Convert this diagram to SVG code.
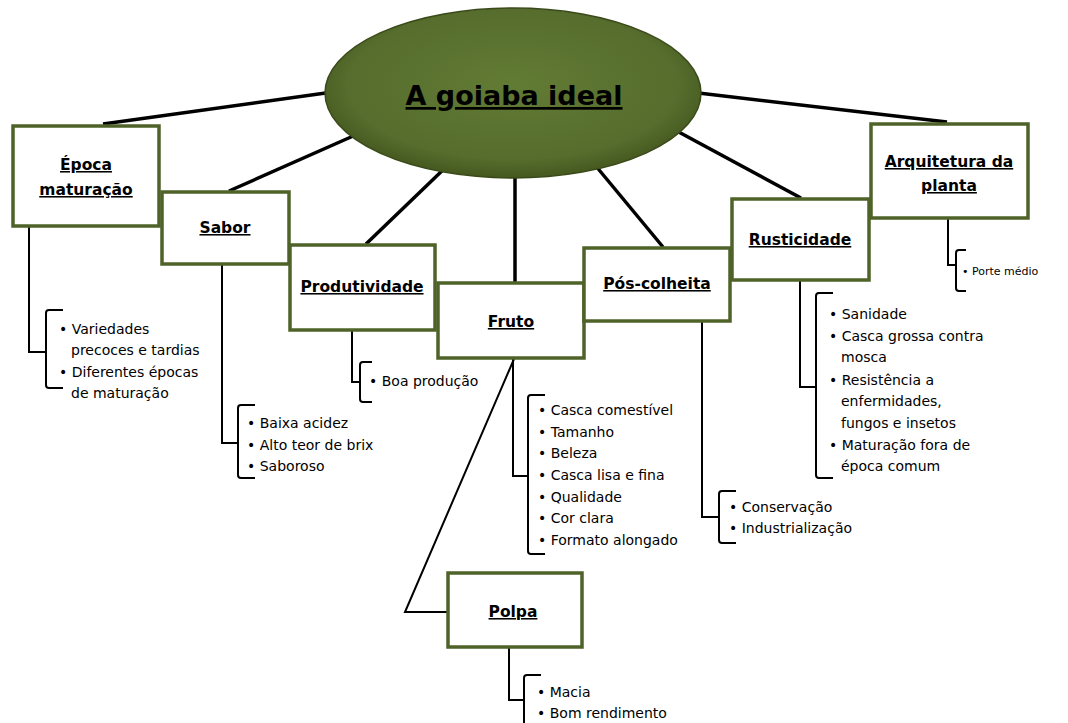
<svg xmlns="http://www.w3.org/2000/svg" width="1068" height="723" viewBox="0 0 1068 723">
<style>
.box{fill:#fff;stroke:#4f6228;stroke-width:3.5}
.lbl{font-family:"DejaVu Sans",sans-serif;font-weight:bold;font-size:15.5px;text-anchor:middle;text-decoration:underline;fill:#000}
.it{font-family:"DejaVu Sans",sans-serif;font-size:14px;fill:#000}
.sm{font-family:"DejaVu Sans",sans-serif;font-size:11px;fill:#000}
.spoke{stroke:#000;stroke-width:3.5;fill:none}
.ln{stroke:#000;stroke-width:2;fill:none}
.br{stroke:#000;stroke-width:2;fill:none}
</style>
<defs>
<radialGradient id="g" cx="50%" cy="45%" r="55%">
<stop offset="0" stop-color="#627b34"/>
<stop offset="0.8" stop-color="#566d2d"/>
<stop offset="1" stop-color="#45581f"/>
</radialGradient>
</defs>
<rect width="1068" height="723" fill="#fff"/>
<g id="connectors">
<line class="spoke" x1="340" y1="91" x2="103" y2="124"/>
<line class="spoke" x1="360" y1="133" x2="229" y2="191"/>
<line class="spoke" x1="445" y1="168" x2="366" y2="244"/>
<line class="spoke" x1="515" y1="175" x2="515" y2="282"/>
<line class="spoke" x1="595" y1="165" x2="663" y2="247"/>
<line class="spoke" x1="675" y1="130" x2="801" y2="198"/>
<line class="spoke" x1="690" y1="92" x2="947" y2="122"/>
<path class="ln" d="M29 227 V352 H46"/>
<path class="br" d="M63 310 H49 Q46 310 46 313 V385 Q46 388 49 388 H63"/>
<path class="ln" d="M222 265 V443 H238"/>
<path class="br" d="M255 405 H241 Q238 405 238 408 V475 Q238 478 241 478 H255"/>
<path class="ln" d="M352 330 V382 H360"/>
<path class="br" d="M372 362 H363 Q360 362 360 365 V399 Q360 402 363 402 H372"/>
<path class="ln" d="M513 358 V476 H528"/>
<path class="br" d="M545 395 H531 Q528 395 528 398 V551 Q528 554 531 554 H545"/>
<path class="ln" stroke-width="1.5" d="M514 359 L405 612 H448"/>
<path class="ln" d="M702 321 V517 H719"/>
<path class="br" d="M736 491 H722 Q719 491 719 494 V540 Q719 543 722 543 H736"/>
<path class="ln" d="M800 280 V387 H816"/>
<path class="br" d="M833 293 H819 Q816 293 816 296 V475 Q816 478 819 478 H833"/>
<path class="ln" d="M948 218 V265 H956"/>
<path class="br" d="M966 250 H959 Q956 250 956 253 V288 Q956 291 959 291 H966"/>
<path class="ln" d="M509 648 V700 H524"/>
<path class="br" d="M541 675 H527 Q524 675 524 678 V723"/>
</g>
<g id="center">
<ellipse cx="513" cy="93" rx="188" ry="85" fill="url(#g)" stroke="#3b4a1a" stroke-width="1.5"/>
<text x="514" y="105" font-family="DejaVu Sans,sans-serif" font-weight="bold" font-size="27" text-anchor="middle" text-decoration="underline" fill="#000">A goiaba ideal</text>
</g>
<g id="epoca">
<rect class="box" x="13" y="126" width="146" height="100"/>
<text class="lbl" x="86" y="170">Época</text>
<text class="lbl" x="86" y="195">maturação</text>
<text class="it" x="59" y="334">• Variedades</text>
<text class="it" x="71" y="355">precoces e tardias</text>
<text class="it" x="59" y="377">• Diferentes épocas</text>
<text class="it" x="71" y="398">de maturação</text>
</g>
<g id="sabor">
<rect class="box" x="162" y="192" width="127" height="72"/>
<text class="lbl" x="225" y="233">Sabor</text>
<text class="it" x="247" y="428">• Baixa acidez</text>
<text class="it" x="247" y="450">• Alto teor de brix</text>
<text class="it" x="247" y="471">• Saboroso</text>
</g>
<g id="produtividade">
<rect class="box" x="290" y="245" width="145" height="85"/>
<text class="lbl" x="362" y="292">Produtividade</text>
<text class="it" x="369" y="386">• Boa produção</text>
</g>
<g id="fruto">
<rect class="box" x="438" y="283" width="146" height="75"/>
<text class="lbl" x="511" y="327">Fruto</text>
<text class="it" x="538" y="415">• Casca comestível</text>
<text class="it" x="538" y="437">• Tamanho</text>
<text class="it" x="538" y="458">• Beleza</text>
<text class="it" x="538" y="480">• Casca lisa e fina</text>
<text class="it" x="538" y="502">• Qualidade</text>
<text class="it" x="538" y="523">• Cor clara</text>
<text class="it" x="538" y="545">• Formato alongado</text>
</g>
<g id="poscolheita">
<rect class="box" x="584" y="248" width="146" height="73"/>
<text class="lbl" x="657" y="289">Pós-colheita</text>
<text class="it" x="729" y="512">• Conservação</text>
<text class="it" x="729" y="533">• Industrialização</text>
</g>
<g id="rusticidade">
<rect class="box" x="732" y="199" width="137" height="81"/>
<text class="lbl" x="800" y="245">Rusticidade</text>
<text class="it" x="829" y="319">• Sanidade</text>
<text class="it" x="829" y="341">• Casca grossa contra</text>
<text class="it" x="841" y="362">mosca</text>
<text class="it" x="829" y="385">• Resistência a</text>
<text class="it" x="841" y="406">enfermidades,</text>
<text class="it" x="841" y="428">fungos e insetos</text>
<text class="it" x="829" y="450">• Maturação fora de</text>
<text class="it" x="841" y="471">época comum</text>
</g>
<g id="arquitetura">
<rect class="box" x="871" y="124" width="157" height="94"/>
<text class="lbl" x="949" y="167">Arquitetura da</text>
<text class="lbl" x="949" y="191">planta</text>
<text class="sm" x="962" y="275">• Porte médio</text>
</g>
<g id="polpa">
<rect class="box" x="448" y="573" width="134" height="74"/>
<text class="lbl" x="513" y="617">Polpa</text>
<text class="it" x="537" y="697">• Macia</text>
<text class="it" x="537" y="718">• Bom rendimento</text>
</g>
</svg>
